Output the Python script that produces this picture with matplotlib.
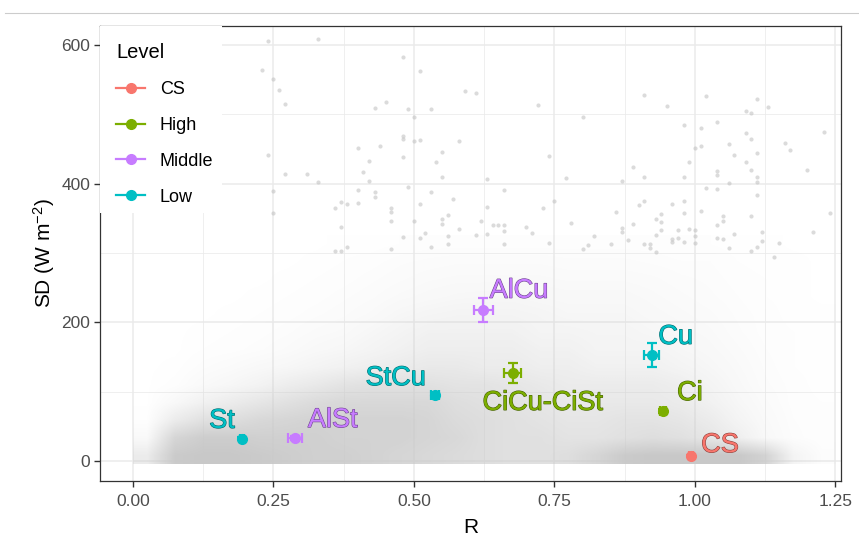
import numpy as np
import matplotlib.pyplot as plt
import matplotlib.patheffects as pe
from matplotlib.lines import Line2D
from matplotlib.patches import Rectangle
from matplotlib.colors import to_rgb, LinearSegmentedColormap

plt.rcParams['font.family'] = ['Liberation Sans', 'DejaVu Sans']
plt.rcParams['mathtext.default'] = 'regular'

# summary point for each cloud type
types = ["St", "AlSt", "StCu", "AlCu", "CiCu-CiSt", "Cu", "Ci", "CS"]
type_level = ["Low", "Middle", "Low", "Middle", "High", "Low", "High", "CS"]
r_mean = [0.194, 0.288, 0.537, 0.623, 0.676, 0.923, 0.943, 0.993]
sd_mean = [32, 33, 95, 218, 127, 153, 72, 7]
r_err = [0.004, 0.012, 0.007, 0.017, 0.015, 0.013, 0.005, 0.004]
sd_err = [2, 3, 3, 17, 14, 17, 3, 1]

levels = ["CS", "High", "Middle", "Low"]
level_colors = ["#F8766D", "#7CAE00", "#C77CFF", "#00BFC4"]

# label offsets (pixels, to the text baseline centre)
label_dx = [-20, 38, -39, 36, 30, 24, 27, 29]
label_dy = [11, 11, 10, 12, -37, 11, 11, 4]

# sparse individual observations above the main cloud
bg_r = [0.24, 0.33, 0.23, 0.25, 0.26, 0.27, 0.48, 0.51, 0.45, 0.43,
        0.49, 0.50, 0.24, 0.27, 0.31, 0.33, 0.25, 0.25, 0.40, 0.44,
        0.42, 0.41, 0.42, 0.40, 0.43, 0.43, 0.48, 0.48, 0.50, 0.51,
        0.48, 0.49, 0.36, 0.37, 0.38, 0.40, 0.37, 0.46, 0.46, 0.46,
        0.50, 0.51, 0.48, 0.51, 0.52, 0.38, 0.36, 0.37, 0.46, 0.53,
        0.59, 0.61, 0.53, 0.72, 0.80, 0.91, 0.95, 1.02, 1.11, 1.09,
        1.10, 1.13, 0.58, 0.55, 0.54, 0.55, 0.74, 0.63, 0.77, 0.87,
        0.89, 0.91, 0.98, 1.01, 1.04, 1.00, 1.01, 0.99, 0.98, 1.09,
        1.10, 1.06, 1.07, 1.11, 1.09, 1.04, 1.04, 1.10, 1.11, 1.11,
        1.06, 1.02, 1.04, 1.11, 1.16, 1.17, 1.20, 1.23, 1.24, 1.21,
        1.15, 1.14,
        0.53, 0.57, 0.66, 0.63, 0.75, 0.73, 0.62, 0.64, 0.65, 0.66,
        0.66, 0.70, 0.71, 0.55, 0.55, 0.56, 0.58, 0.61, 0.56, 0.56,
        0.63, 0.66, 0.74, 0.78, 0.82, 0.81, 0.80, 0.85, 0.86, 0.87,
        0.87, 0.89, 0.90, 0.91, 0.94, 0.93, 0.94, 0.94, 0.93, 0.96,
        0.98, 0.98, 0.97, 0.99, 1.00, 1.00, 1.01, 1.05, 1.05, 1.04,
        1.04, 1.05, 1.07, 1.10, 1.12, 1.12, 1.11, 1.10, 1.06, 0.88,
        0.91, 0.92, 0.92, 0.93, 0.96, 0.97, 0.96, 0.98, 1.00]
bg_sd = [606, 608, 564, 551, 535, 515, 583, 562, 518, 509,
         508, 496, 441, 414, 414, 402, 389, 358, 451, 454,
         433, 417, 404, 391, 388, 381, 464, 469, 461, 463,
         438, 395, 365, 373, 371, 372, 337, 359, 365, 346,
         346, 371, 323, 322, 329, 309, 303, 303, 306, 309,
         534, 531, 508, 513, 496, 528, 512, 526, 522, 505,
         502, 510, 461, 446, 431, 410, 440, 407, 408, 404,
         424, 410, 485, 480, 489, 451, 454, 431, 410, 473,
         464, 457, 441, 444, 431, 418, 412, 420, 410, 402,
         401, 394, 392, 384, 459, 448, 420, 474, 358, 330,
         314, 294,
         388, 378, 391, 366, 375, 365, 346, 340, 340, 340,
         332, 337, 329, 342, 349, 355, 335, 326, 324, 313,
         327, 313, 314, 343, 324, 311, 306, 313, 359, 336,
         330, 342, 369, 375, 356, 349, 345, 333, 326, 371,
         375, 358, 333, 335, 333, 324, 361, 353, 346, 340,
         322, 320, 327, 353, 330, 317, 309, 303, 307, 319,
         313, 313, 307, 301, 320, 322, 316, 316, 314]

# coverage of the dense cloud: rows = SD bins of 25 from 0, cols = R bins of 0.05 from 0
cloud_density = [
    [0.35, 0.95, 1.0, 1.0, 0.95, 0.9, 0.85, 0.85, 0.8, 0.75, 0.7, 0.65, 0.6, 0.55, 0.55, 0.6, 0.75, 0.95, 1.0, 1.0, 1.0, 1.0, 0.8, 0.2, 0.05],
    [0.1, 0.75, 0.9, 0.9, 0.85, 0.85, 0.85, 0.8, 0.8, 0.8, 0.75, 0.7, 0.6, 0.55, 0.55, 0.5, 0.5, 0.55, 0.6, 0.55, 0.45, 0.3, 0.12, 0.05, 0.02],
    [0.02, 0.35, 0.55, 0.6, 0.7, 0.75, 0.8, 0.8, 0.8, 0.8, 0.75, 0.65, 0.6, 0.55, 0.5, 0.45, 0.45, 0.5, 0.5, 0.45, 0.35, 0.2, 0.1, 0.04, 0.02],
    [0, 0.12, 0.25, 0.35, 0.45, 0.55, 0.65, 0.7, 0.7, 0.7, 0.7, 0.6, 0.55, 0.5, 0.45, 0.4, 0.4, 0.4, 0.4, 0.35, 0.25, 0.15, 0.08, 0.03, 0.02],
    [0, 0.03, 0.1, 0.15, 0.22, 0.32, 0.4, 0.5, 0.55, 0.55, 0.55, 0.5, 0.5, 0.45, 0.4, 0.35, 0.35, 0.35, 0.35, 0.3, 0.2, 0.12, 0.06, 0.03, 0.01],
    [0, 0.01, 0.05, 0.08, 0.12, 0.15, 0.2, 0.25, 0.3, 0.35, 0.4, 0.4, 0.35, 0.35, 0.3, 0.3, 0.25, 0.25, 0.25, 0.2, 0.15, 0.1, 0.05, 0.02, 0.01],
    [0, 0, 0.02, 0.03, 0.05, 0.08, 0.12, 0.15, 0.2, 0.25, 0.3, 0.3, 0.3, 0.3, 0.25, 0.25, 0.2, 0.2, 0.2, 0.15, 0.12, 0.08, 0.04, 0.02, 0.01],
    [0, 0, 0.01, 0.02, 0.03, 0.05, 0.08, 0.1, 0.15, 0.2, 0.25, 0.25, 0.25, 0.25, 0.2, 0.2, 0.18, 0.18, 0.15, 0.12, 0.1, 0.06, 0.03, 0.02, 0.01],
    [0, 0, 0, 0.01, 0.02, 0.03, 0.05, 0.07, 0.1, 0.15, 0.18, 0.2, 0.2, 0.2, 0.18, 0.15, 0.15, 0.15, 0.12, 0.1, 0.08, 0.05, 0.03, 0.01, 0.01],
    [0, 0, 0, 0, 0.01, 0.02, 0.03, 0.05, 0.07, 0.1, 0.12, 0.14, 0.15, 0.15, 0.13, 0.12, 0.12, 0.12, 0.1, 0.08, 0.06, 0.04, 0.02, 0.01, 0],
    [0, 0, 0, 0, 0, 0.01, 0.02, 0.03, 0.05, 0.07, 0.09, 0.1, 0.1, 0.1, 0.1, 0.09, 0.09, 0.09, 0.08, 0.06, 0.05, 0.03, 0.02, 0.01, 0],
    [0, 0, 0, 0, 0, 0, 0.01, 0.02, 0.03, 0.05, 0.06, 0.07, 0.07, 0.07, 0.07, 0.06, 0.06, 0.06, 0.05, 0.04, 0.04, 0.02, 0.01, 0.01, 0],
    [0, 0, 0, 0, 0, 0, 0, 0.01, 0.01, 0.02, 0.03, 0.03, 0.03, 0.03, 0.03, 0.03, 0.03, 0.03, 0.03, 0.02, 0.02, 0.01, 0.01, 0, 0],
]

fig = plt.figure(figsize=(8.59, 5.41), dpi=100)
ax = fig.add_axes([0.1164, 0.1109, 0.8626, 0.841])

# dense cloud drawn as a smooth grey haze (alpha carried by the colormap)
grey = to_rgb("#C8C8C8")
haze = LinearSegmentedColormap.from_list("haze", [grey + (0.0,), grey + (1.0,)])
ax.imshow(np.array(cloud_density), cmap=haze, vmin=0, vmax=1, origin="lower",
          extent=(0, 1.25, -4, 325), aspect="auto", interpolation="bilinear",
          interpolation_stage="data", zorder=1)
ax.scatter(bg_r, bg_sd, s=9, color="#BEBEBE", alpha=0.55, linewidths=0, zorder=2)

col = dict(zip(levels, level_colors))
for i, t in enumerate(types):
    c = col[type_level[i]]
    ax.errorbar(r_mean[i], sd_mean[i], xerr=r_err[i], yerr=sd_err[i], fmt="o",
                color=c, ms=7, elinewidth=1.6, capsize=3.5, capthick=1.6, zorder=5)
    dark = tuple(v * 0.55 for v in to_rgb(c))
    ax.annotate(t, (r_mean[i], sd_mean[i]), xytext=(label_dx[i], label_dy[i]),
                textcoords="offset pixels", ha="center", va="baseline",
                fontsize=19.5, color=c, zorder=6,
                path_effects=[pe.withStroke(linewidth=0.8, foreground=dark)])

ax.set_xlim(-0.0587, 1.2598)
ax.set_ylim(-28.8, 627)
ax.set_xticks([0, 0.25, 0.5, 0.75, 1.0, 1.25])
ax.set_xticklabels(["0.00", "0.25", "0.50", "0.75", "1.00", "1.25"])
ax.set_yticks([0, 200, 400, 600])
ax.set_xticks([0.125, 0.375, 0.625, 0.875, 1.125], minor=True)
ax.set_yticks([100, 300, 500], minor=True)
ax.set_axisbelow(True)
ax.grid(which="major", color="#EBEBEB", lw=1.1)
ax.grid(which="minor", color="#EBEBEB", lw=0.55)
ax.tick_params(which="major", length=4, width=1.0, color="#333333",
               labelcolor="#4D4D4D", labelsize=12.5, pad=3)
ax.tick_params(axis="x", which="major", pad=5.5)
ax.tick_params(which="minor", length=0)
for s in ax.spines.values():
    s.set_color("#333333")
    s.set_linewidth(0.9)

ax.set_xlabel("R", fontsize=15, labelpad=6)
ax.set_ylabel("SD (W m$^{-2}$)", fontsize=15, labelpad=3)

# legend on a white box in the top-left corner of the panel
ax.add_patch(Rectangle((0, 0.589), 0.1646, 0.411, transform=ax.transAxes,
                       facecolor="white", edgecolor="none", zorder=9))
handles = [Line2D([], [], color=c, marker="o", ms=7, lw=1.6) for c in level_colors]
leg = ax.legend(handles, levels, title="Level", loc="upper left",
                bbox_to_anchor=(-0.0034, 1.0033), borderaxespad=0, frameon=False,
                fontsize=13, title_fontsize=14.5, handlelength=1.6,
                handletextpad=0.8, labelspacing=1.04, borderpad=1.05,
                alignment="left")
leg.set_zorder(10)

fig.add_artist(Line2D([5 / 859, 1], [1 - 13 / 541] * 2, transform=fig.transFigure,
                      color="#CCCCCC", lw=0.8))

fig.savefig("out.png", dpi=100)
